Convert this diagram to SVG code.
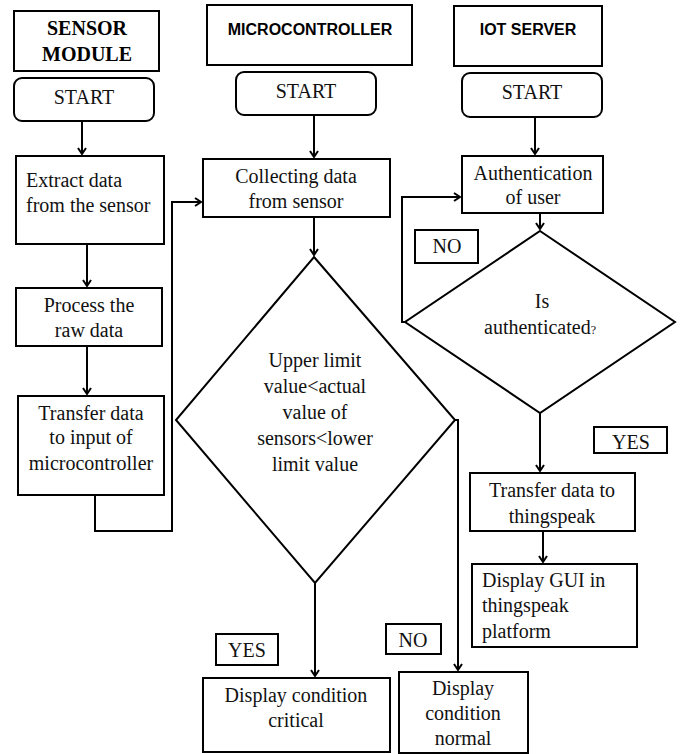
<svg xmlns="http://www.w3.org/2000/svg" width="681" height="754" viewBox="0 0 681 754">
<style>
.b{fill:#fff;stroke:#000;stroke-width:2}
.t{font-family:"Liberation Serif","Times New Roman",serif;font-size:20px;fill:#111}
.c{text-anchor:middle}
.hs{font-family:"Liberation Serif","Times New Roman",serif;font-size:20px;font-weight:bold;fill:#000;text-anchor:middle}
.hb{font-family:"Liberation Sans",Arial,sans-serif;font-size:16px;font-weight:bold;fill:#000;text-anchor:middle}
.l{fill:none;stroke:#000;stroke-width:2}
</style>
<defs>
<marker id="a" markerWidth="10" markerHeight="10" refX="8" refY="5" orient="auto" markerUnits="userSpaceOnUse">
<path d="M2,1 L8,5 L2,9" fill="none" stroke="#000" stroke-width="2"/>
</marker>
</defs>
<rect width="681" height="754" fill="#fff"/>
<g id="connectors">
<path class="l" d="M82,121 V154" marker-end="url(#a)"/>
<path class="l" d="M87,244 V286" marker-end="url(#a)"/>
<path class="l" d="M87,346 V394" marker-end="url(#a)"/>
<path class="l" d="M95,495 V531 H172 V202 H201" marker-end="url(#a)"/>
<path class="l" d="M314,115 V157" marker-end="url(#a)"/>
<path class="l" d="M314,217 V255" marker-end="url(#a)"/>
<path class="l" d="M315,583 V676" marker-end="url(#a)"/>
<path class="l" d="M455,420 H458 V670" marker-end="url(#a)"/>
<path class="l" d="M535,117 V154" marker-end="url(#a)"/>
<path class="l" d="M540,213 V229" marker-end="url(#a)"/>
<path class="l" d="M405,322 H402 V197 H460" marker-end="url(#a)"/>
<path class="l" d="M540,413 V471" marker-end="url(#a)"/>
<path class="l" d="M543,531 V562" marker-end="url(#a)"/>
</g>
<g id="h-sensor"><rect class="b" x="14" y="11" width="145" height="60"/><text class="hs" x="87" y="35">SENSOR</text><text class="hs" x="87" y="61">MODULE</text></g>
<g id="h-micro"><rect class="b" x="207" y="5" width="205" height="60"/><text class="hb" x="310" y="35">MICROCONTROLLER</text></g>
<g id="h-iot"><rect class="b" x="454" y="6" width="148" height="60"/><text class="hb" x="528" y="35">IOT SERVER</text></g>
<g id="start1"><rect class="b" x="14" y="78" width="140" height="43" rx="8"/><text class="t c" x="84" y="104">START</text></g>
<g id="start2"><rect class="b" x="236" y="72" width="140" height="43" rx="8"/><text class="t c" x="306" y="98">START</text></g>
<g id="start3"><rect class="b" x="462" y="73" width="140" height="44" rx="8"/><text class="t c" x="532" y="99">START</text></g>
<g id="extract"><rect class="b" x="16" y="156" width="148" height="88"/><text class="t" x="26" y="187">Extract data</text><text class="t" x="26" y="212">from the sensor</text></g>
<g id="process"><rect class="b" x="16" y="288" width="146" height="58"/><text class="t c" x="89" y="312">Process the</text><text class="t c" x="89" y="337">raw data</text></g>
<g id="transfer"><rect class="b" x="18" y="396" width="146" height="99"/><text class="t c" x="91" y="420">Transfer data</text><text class="t c" x="91" y="444">to input of</text><text class="t c" x="91" y="470">microcontroller</text></g>
<g id="collect"><rect class="b" x="203" y="159" width="187" height="58"/><text class="t c" x="296" y="183">Collecting data</text><text class="t c" x="296" y="208">from sensor</text></g>
<g id="decision1"><polygon class="b" points="314,257 455,420 315,583 176,420"/><text class="t c" x="315" y="367">Upper limit</text><text class="t c" x="315" y="393">value&lt;actual</text><text class="t c" x="315" y="419">value of</text><text class="t c" x="315" y="445">sensors&lt;lower</text><text class="t c" x="315" y="471">limit value</text></g>
<g id="yes1"><rect class="b" x="216" y="634" width="62" height="31"/><text class="t c" x="247" y="657">YES</text></g>
<g id="no1"><rect class="b" x="386" y="624" width="55" height="30"/><text class="t c" x="413" y="647">NO</text></g>
<g id="critical"><rect class="b" x="203" y="678" width="187" height="74"/><text class="t c" x="296" y="702">Display condition</text><text class="t c" x="296" y="727">critical</text></g>
<g id="normal"><rect class="b" x="399" y="672" width="129" height="81"/><text class="t c" x="463" y="695">Display</text><text class="t c" x="463" y="720">condition</text><text class="t c" x="463" y="745">normal</text></g>
<g id="auth"><rect class="b" x="462" y="156" width="141" height="57"/><text class="t c" x="533" y="180">Authentication</text><text class="t c" x="533" y="204">of user</text></g>
<g id="no2"><rect class="b" x="415" y="230" width="63" height="33"/><text class="t c" x="447" y="253">NO</text></g>
<g id="decision2"><polygon class="b" points="540,231 675,322 540,413 405,322"/><text class="t c" x="542" y="308">Is</text><text class="t c" x="540" y="334">authenticated<tspan font-size="12">?</tspan></text></g>
<g id="yes2"><rect class="b" x="594" y="427" width="73" height="26"/><text class="t c" x="631" y="449">YES</text></g>
<g id="thingspeak"><rect class="b" x="470" y="473" width="165" height="58"/><text class="t c" x="552" y="497">Transfer data to</text><text class="t c" x="552" y="523">thingspeak</text></g>
<g id="gui"><rect class="b" x="472" y="564" width="165" height="83"/><text class="t" x="482" y="587">Display GUI in</text><text class="t" x="482" y="612">thingspeak</text><text class="t" x="482" y="638">platform</text></g>
</svg>
